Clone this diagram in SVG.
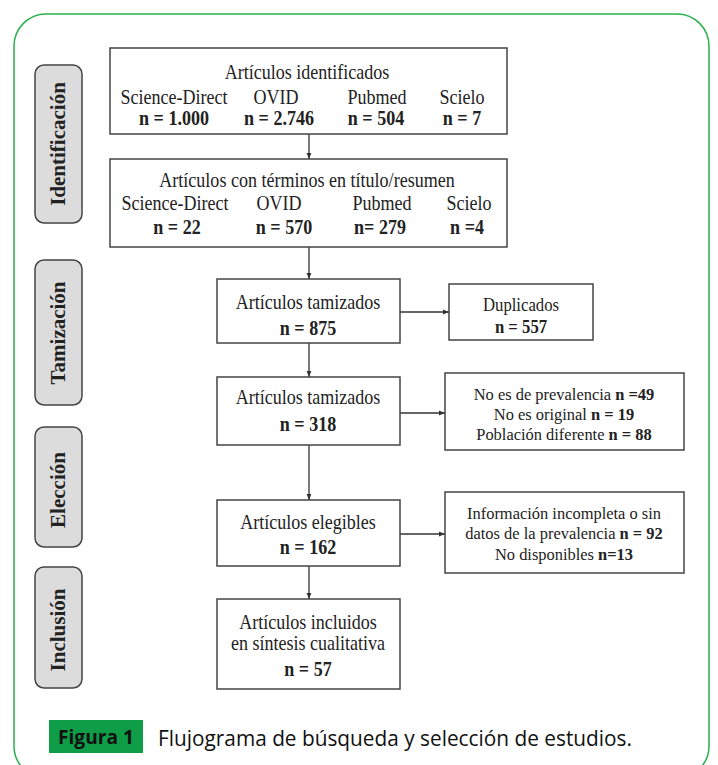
<svg xmlns="http://www.w3.org/2000/svg" width="718" height="765" viewBox="0 0 718 765">
<style>
.box{fill:#fff;stroke:#444;stroke-width:1.5}
.side{fill:#dcdcdc;stroke:#444;stroke-width:1.5}
.t{font-family:"Liberation Serif","Times New Roman",serif;fill:#222;text-anchor:middle}
.t18{font-size:20.5px}
.t17{font-size:19px}
.t16{font-size:17.5px}
.b{font-weight:bold}
.sl{font-family:"Liberation Serif","Times New Roman",serif;font-size:21px;font-weight:bold;fill:#222;text-anchor:middle}
.c{stroke:#333;stroke-width:1.3;fill:none;marker-end:url(#ah)}
</style>
<defs>
<marker id="ah" viewBox="0 0 10 10" refX="10" refY="5" markerWidth="6" markerHeight="6" markerUnits="userSpaceOnUse" orient="auto">
<path d="M0,1 L10,5 L0,9 z" fill="#333"/>
</marker>
</defs>
<rect width="718" height="765" fill="#fff"/>
<rect x="14" y="14" width="695" height="764" rx="32" fill="none" stroke="#2bb04d" stroke-width="1.5"/>

<g id="label-identificacion">
<rect class="side" x="35" y="65" width="47" height="158" rx="9"/>
<text class="sl" transform="translate(65,144) rotate(-90)">Identificación</text>
</g>
<g id="label-tamizacion">
<rect class="side" x="35" y="260" width="47" height="145" rx="9"/>
<text class="sl" transform="translate(65,333) rotate(-90)">Tamización</text>
</g>
<g id="label-eleccion">
<rect class="side" x="35" y="427" width="47" height="120" rx="9"/>
<text class="sl" transform="translate(65,490) rotate(-90)">Elección</text>
</g>
<g id="label-inclusion">
<rect class="side" x="35" y="567" width="47" height="121" rx="9"/>
<text class="sl" transform="translate(65,630) rotate(-90)">Inclusión</text>
</g>

<g id="connectors">
<line class="c" x1="309" y1="134" x2="309" y2="159"/>
<line class="c" x1="309" y1="247" x2="309" y2="279"/>
<line class="c" x1="309" y1="343" x2="309" y2="377"/>
<line class="c" x1="309" y1="445" x2="309" y2="500"/>
<line class="c" x1="309" y1="566" x2="309" y2="599"/>
<line class="c" x1="400" y1="312" x2="449" y2="312"/>
<line class="c" x1="400" y1="413" x2="445" y2="413"/>
<line class="c" x1="400" y1="534" x2="445" y2="534"/>
</g>

<g id="identificados">
<rect class="box" x="110" y="48" width="397" height="86"/>
<text class="t t18" transform="translate(307,79) scale(.88,1)">Artículos identificados</text>
<text class="t t18" transform="translate(174,104) scale(.88,1)">Science-Direct</text>
<text class="t t18" transform="translate(276,104) scale(.88,1)">OVID</text>
<text class="t t18" transform="translate(377,104) scale(.88,1)">Pubmed</text>
<text class="t t18" transform="translate(462,104) scale(.88,1)">Scielo</text>
<text class="t t18 b" transform="translate(174,125) scale(.88,1)">n = 1.000</text>
<text class="t t18 b" transform="translate(279,125) scale(.88,1)">n = 2.746</text>
<text class="t t18 b" transform="translate(376,125) scale(.88,1)">n = 504</text>
<text class="t t18 b" transform="translate(462,125) scale(.88,1)">n = 7</text>
</g>

<g id="terminos">
<rect class="box" x="110" y="159" width="397" height="88"/>
<text class="t t18" transform="translate(307,187) scale(.88,1)">Artículos con términos en título/resumen</text>
<text class="t t18" transform="translate(175,210) scale(.88,1)">Science-Direct</text>
<text class="t t18" transform="translate(279,210) scale(.88,1)">OVID</text>
<text class="t t18" transform="translate(382,210) scale(.88,1)">Pubmed</text>
<text class="t t18" transform="translate(469,210) scale(.88,1)">Scielo</text>
<text class="t t18 b" transform="translate(177,234) scale(.88,1)">n = 22</text>
<text class="t t18 b" transform="translate(284,234) scale(.88,1)">n = 570</text>
<text class="t t18 b" transform="translate(380,234) scale(.88,1)">n= 279</text>
<text class="t t18 b" transform="translate(467,234) scale(.88,1)">n =4</text>
</g>

<g id="tamizados1">
<rect class="box" x="217" y="279" width="183" height="64"/>
<text class="t t18" transform="translate(308,309) scale(.88,1)">Artículos tamizados</text>
<text class="t t18 b" transform="translate(308,335) scale(.88,1)">n = 875</text>
</g>

<g id="duplicados">
<rect class="box" x="449" y="284" width="144" height="56"/>
<text class="t t17" transform="translate(521,311) scale(.88,1)">Duplicados</text>
<text class="t t17 b" transform="translate(521,333) scale(.88,1)">n = 557</text>
</g>

<g id="tamizados2">
<rect class="box" x="217" y="377" width="183" height="68"/>
<text class="t t18" transform="translate(308,404) scale(.88,1)">Artículos tamizados</text>
<text class="t t18 b" transform="translate(308,431) scale(.88,1)">n = 318</text>
</g>

<g id="excluidos1">
<rect class="box" x="445" y="373" width="239" height="77"/>
<text class="t t16" transform="translate(564,400) scale(.94,1)">No es de prevalencia  <tspan class="b">n =49</tspan></text>
<text class="t t16" transform="translate(564,420) scale(.94,1)">No es original <tspan class="b">n = 19</tspan></text>
<text class="t t16" transform="translate(564,440) scale(.94,1)">Población diferente <tspan class="b">n = 88</tspan></text>
</g>

<g id="elegibles">
<rect class="box" x="217" y="500" width="183" height="66"/>
<text class="t t18" transform="translate(308,529) scale(.88,1)">Artículos elegibles</text>
<text class="t t18 b" transform="translate(308,554) scale(.88,1)">n =  162</text>
</g>

<g id="excluidos2">
<rect class="box" x="445" y="492" width="239" height="81"/>
<text class="t t16" transform="translate(564,519) scale(.94,1)">Información incompleta o sin</text>
<text class="t t16" transform="translate(564,539) scale(.94,1)">datos de la prevalencia  <tspan class="b">n = 92</tspan></text>
<text class="t t16" transform="translate(564,560) scale(.94,1)">No disponibles <tspan class="b">n=13</tspan></text>
</g>

<g id="incluidos">
<rect class="box" x="217" y="599" width="183" height="90"/>
<text class="t t18" transform="translate(308,629) scale(.88,1)">Artículos incluidos</text>
<text class="t t18" transform="translate(308,650) scale(.88,1)">en síntesis cualitativa</text>
<text class="t t18 b" transform="translate(308,676) scale(.88,1)">n = 57</text>
</g>

<g id="caption">
<rect x="49" y="720" width="94" height="33" fill="#0f9d48"/>
<text x="96" y="744" font-family="'Open Sans','Liberation Sans',sans-serif" font-size="20" font-weight="bold" fill="#111" text-anchor="middle" textLength="76" lengthAdjust="spacingAndGlyphs">Figura 1</text>
<text x="158" y="746" font-family="'Open Sans','Liberation Sans',sans-serif" font-size="21" fill="#111" textLength="474" lengthAdjust="spacingAndGlyphs">Flujograma de búsqueda y selección de estudios.</text>
</g>
</svg>
